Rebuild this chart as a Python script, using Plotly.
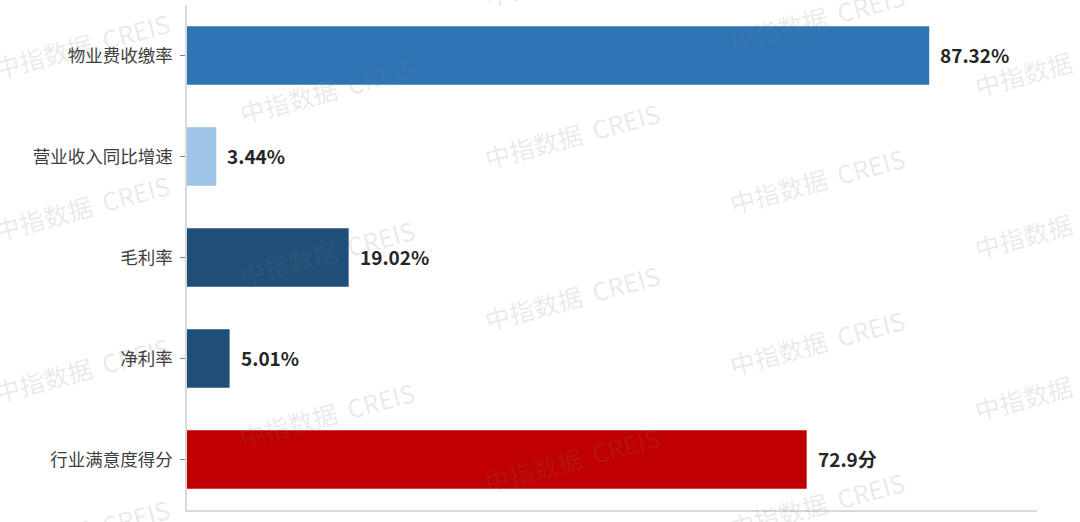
import plotly.graph_objects as go

categories = ["物业费收缴率", "营业收入同比增速", "毛利率", "净利率", "行业满意度得分"]
values = [87.32, 3.44, 19.02, 5.01, 72.9]
value_labels = ["87.32%", "3.44%", "19.02%", "5.01%", "72.9分"]
bar_colors = ["#2E75B6", "#9DC3E6", "#1F4E79", "#1F4E79", "#C00000"]

FONT = "Noto Sans CJK SC"

fig = go.Figure()
fig.add_trace(go.Bar(
    y=categories, x=values, orientation="h",
    marker=dict(color=bar_colors, line=dict(width=0)),
    width=0.58, hoverinfo="skip",
))

annotations = []
for c, v, t in zip(categories, values, value_labels):
    annotations.append(dict(
        x=v, y=c, xref="x", yref="y", text="<b>" + t + "</b>", showarrow=False,
        xanchor="left", xshift=9, yshift=1,
        font=dict(family=FONT, size=19, color="#262626"),
    ))

# watermark grid
W, H = 1080, 522
L, R, T, B = 187, 43, 5, 12
pw, ph = W - L - R, H - T - B
for i in range(5):
    for j in range(-1, 4):
        px = 82 + 245 * i
        py = 45 + 45 * i + 162 * j
        if py < -40 or py > 570:
            continue
        annotations.append(dict(
            x=(px - L) / pw, y=(H - B - py) / ph, xref="paper", yref="paper",
            text="中指数据  CREIS", showarrow=False, textangle=-15,
            xanchor="center", yanchor="middle",
            font=dict(family=FONT, size=25, color="rgba(120,120,120,0.16)"),
        ))

fig.update_layout(
    width=W, height=H,
    margin=dict(l=L, r=R, t=T, b=B, autoexpand=False),
    plot_bgcolor="white", paper_bgcolor="white",
    showlegend=False,
    annotations=annotations,
    xaxis=dict(range=[0, 100], showticklabels=False, showgrid=False, zeroline=False,
               showline=True, linecolor="#D9D9D9", linewidth=1.5, ticks="",
               automargin=False),
    yaxis=dict(autorange="reversed", showgrid=False, zeroline=False,
               showline=True, linecolor="#D9D9D9", linewidth=1.5,
               ticks="outside", ticklen=5, tickcolor="#7F7F7F", tickwidth=1,
               ticklabelstandoff=4,
               automargin=False,
               tickfont=dict(family=FONT, size=17.5, color="#404040")),
)

fig.write_html("out.html", config={"displayModeBar": False},
               post_script="document.body.style.margin='0';document.body.style.overflow='hidden';")
